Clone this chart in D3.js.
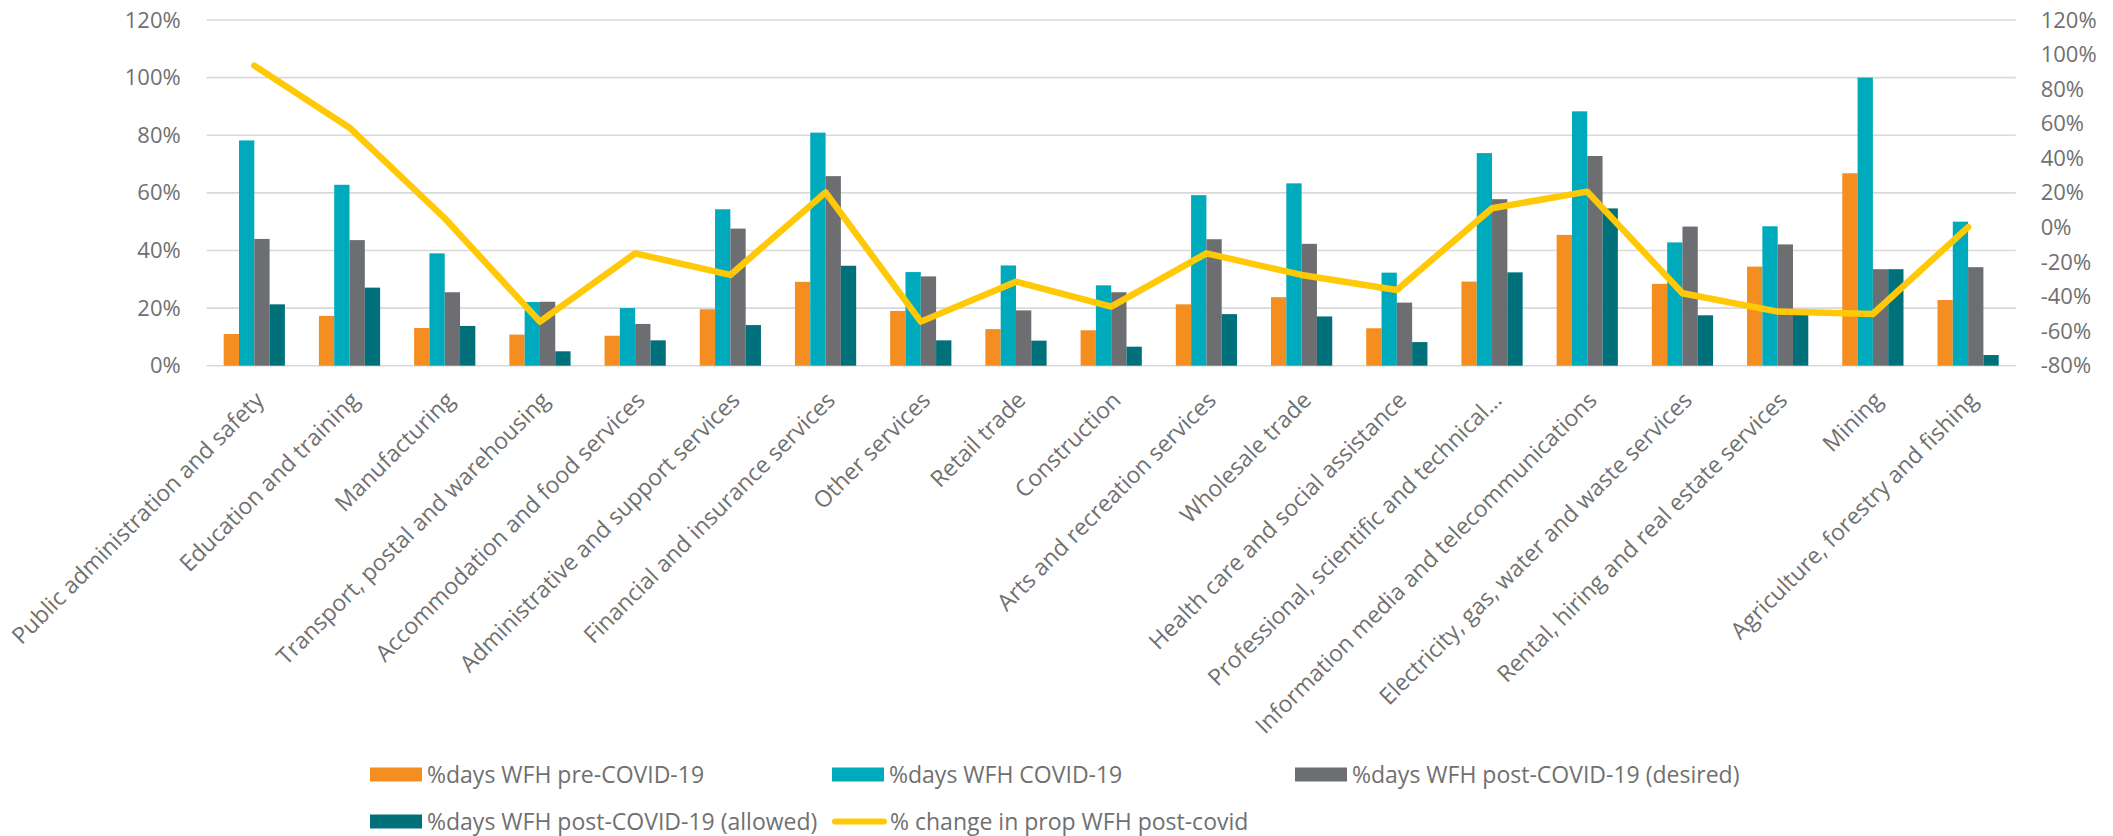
<!DOCTYPE html>
<html><head><meta charset="utf-8">
<script src="https://cdn.jsdelivr.net/npm/d3@7"></script>
<style>
html,body{margin:0;padding:0;background:#fff;}
svg{display:block;font-family:"Open Sans","Noto Sans",sans-serif;}
</style></head>
<body>
<svg id="chart" width="2113" height="836"></svg>
<script>
const categories = [
  "Public administration and safety","Education and training","Manufacturing",
  "Transport, postal and warehousing","Accommodation and food services",
  "Administrative and support services","Financial and insurance services",
  "Other services","Retail trade","Construction","Arts and recreation services",
  "Wholesale trade","Health care and social assistance",
  "Professional, scientific and technical\u2026","Information media and telecommunications",
  "Electricity, gas, water and waste services","Rental, hiring and real estate services",
  "Mining","Agriculture, forestry and fishing"
];
const preCovid = [11.0,17.3,13.1,10.8,10.4,19.6,29.1,19.0,12.7,12.3,21.3,23.8,13.0,29.2,45.4,28.4,34.4,66.8,22.8];
const covid    = [78.2,62.8,39.0,22.1,20.0,54.3,80.9,32.5,34.8,27.9,59.2,63.3,32.3,73.8,88.3,42.8,48.4,100.0,50.0];
const desired  = [44.0,43.6,25.5,22.2,14.5,47.6,65.8,31.0,19.2,25.5,43.9,42.3,21.9,57.8,72.8,48.3,42.1,33.5,34.2];
const allowed  = [21.3,27.1,13.8,5.0,8.8,14.1,34.7,8.8,8.7,6.6,17.9,17.1,8.2,32.4,54.6,17.5,17.6,33.5,3.7];
const changePct = [93.6,57.7,5.3,-54.5,-15.0,-27.5,20.3,-54.5,-31.4,-45.8,-15.0,-27.5,-36.2,11.1,20.7,-38.1,-48.7,-50.1,0.2];
const leftTicks = [0,20,40,60,80,100,120];
const rightTicks = [-80,-60,-40,-20,0,20,40,60,80,100,120];
const seriesNames = ["%days WFH pre-COVID-19","%days WFH COVID-19","%days WFH post-COVID-19 (desired)","%days WFH post-COVID-19 (allowed)"];
const lineName = "% change in prop WFH post-covid";
const colors = ["#F58E21","#00AABD","#6D6E71","#00707B"];
const lineColor = "#FFC907";

(function(){
const svg = d3.select("#chart");
const pL = 206.7, pR = 2015.7, pT = 20, pB = 365.7;
const textColor = "#707070";

const x0 = d3.scaleBand().domain(categories).range([pL,pR]).paddingInner(0.357).paddingOuter(0.1785);
const x1 = d3.scaleBand().domain(d3.range(4)).range([0,x0.bandwidth()]);
const yL = d3.scaleLinear().domain([0,120]).range([pB,pT]);
const yR = d3.scaleLinear().domain([-80,120]).range([pB,pT]);

// gridlines
svg.append("g").selectAll("line").data(leftTicks).join("line")
  .attr("x1",pL).attr("x2",pR)
  .attr("y1",d=>yL(d)).attr("y2",d=>yL(d))
  .attr("stroke","#D9D9D9").attr("stroke-width",1.6);

// left axis
const la = svg.append("g").attr("transform",`translate(${pL-26},0)`)
  .call(d3.axisLeft(yL).tickValues(leftTicks).tickFormat(d=>d+"%").tickSize(0).tickPadding(0));
la.select(".domain").remove();
la.selectAll("text").attr("fill",textColor).style("font-size","22px").style("font-family","'Open Sans'");

// right axis
const ra = svg.append("g").attr("transform",`translate(${pR+25},0)`)
  .call(d3.axisRight(yR).tickValues(rightTicks).tickFormat(d=>d+"%").tickSize(0).tickPadding(0));
ra.select(".domain").remove();
ra.selectAll("text").attr("fill",textColor).style("font-size","22px").style("font-family","'Open Sans'");

// bars
const seriesData = [preCovid,covid,desired,allowed];
const groups = svg.append("g").selectAll("g").data(categories).join("g")
  .attr("transform",d=>`translate(${x0(d)},0)`);
groups.selectAll("rect").data((d,i)=>seriesData.map((s,k)=>({k,v:s[i]}))).join("rect")
  .attr("x",d=>x1(d.k)).attr("width",x1.bandwidth())
  .attr("y",d=>yL(d.v)).attr("height",d=>yL(0)-yL(d.v))
  .attr("fill",d=>colors[d.k]);

// x axis labels
const xa = svg.append("g").attr("transform",`translate(0,${pB})`)
  .call(d3.axisBottom(x0).tickSize(0).tickPadding(0));
xa.select(".domain").remove();
xa.selectAll("text")
  .attr("fill",textColor).style("font-size","23px").style("font-family","'Open Sans'")
  .attr("text-anchor","end").attr("dy",null).attr("y",0).attr("x",0)
  .attr("transform","translate(11,36) rotate(-45)");

// line
const line = d3.line().x((d,i)=>x0(categories[i])+x0.bandwidth()/2).y(d=>yR(d));
svg.append("path").datum(changePct).attr("d",line)
  .attr("fill","none").attr("stroke",lineColor).attr("stroke-width",6.5)
  .attr("stroke-linejoin","round").attr("stroke-linecap","round");

// legend
const legendItems = [
  {name:seriesNames[0],type:"rect",color:colors[0],x:370,y:774.5},
  {name:seriesNames[1],type:"rect",color:colors[1],x:832,y:774.5},
  {name:seriesNames[2],type:"rect",color:colors[2],x:1295,y:774.5},
  {name:seriesNames[3],type:"rect",color:colors[3],x:370,y:821.5},
  {name:lineName,type:"line",color:lineColor,x:833,y:821.5}
];
const lg = svg.append("g").selectAll("g").data(legendItems).join("g")
  .attr("transform",d=>`translate(${d.x},${d.y})`);
lg.filter(d=>d.type==="rect").append("rect")
  .attr("x",0).attr("y",-7).attr("width",52).attr("height",14).attr("fill",d=>d.color);
lg.filter(d=>d.type==="line").append("line")
  .attr("x1",2).attr("x2",51).attr("y1",0).attr("y2",0)
  .attr("stroke",d=>d.color).attr("stroke-width",6).attr("stroke-linecap","round");
lg.append("text").attr("x",57).attr("y",0).attr("dy","0.35em")
  .attr("fill",textColor).style("font-size","23px").text(d=>d.name);
})();
</script>
</body></html>
